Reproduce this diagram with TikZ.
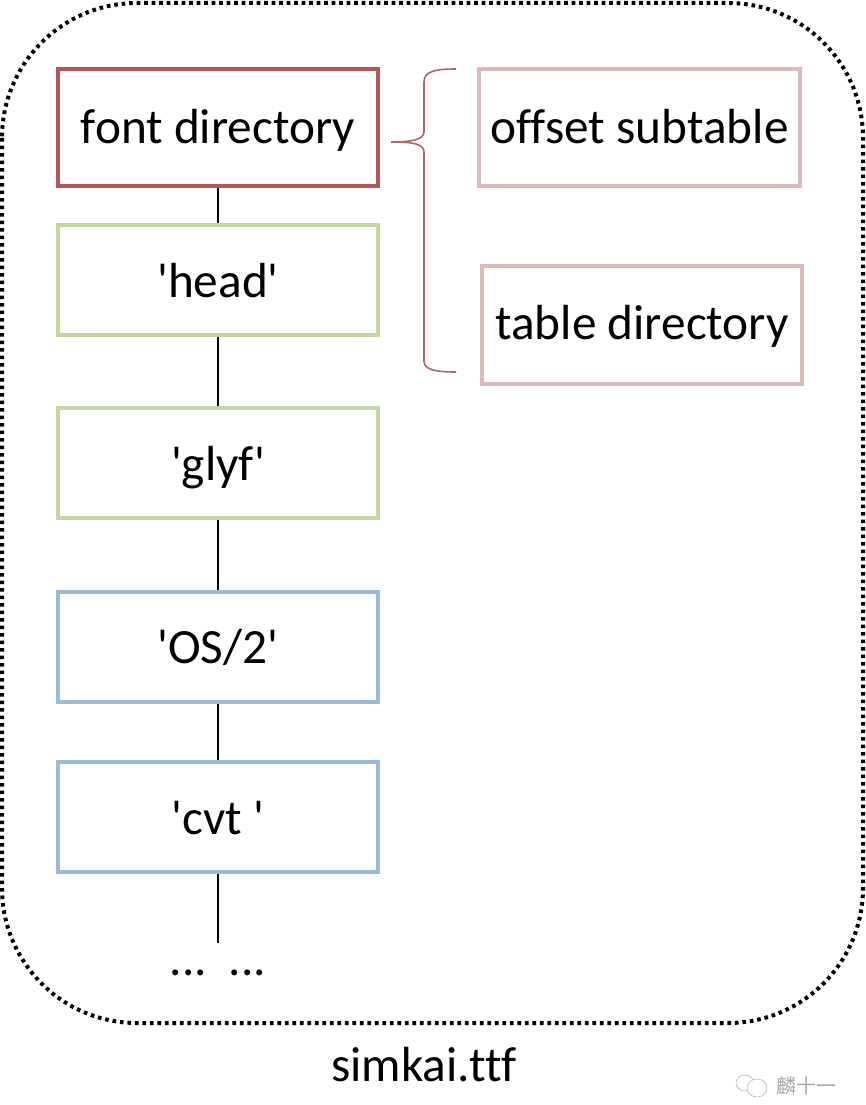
\documentclass[tikz,border=0pt]{standalone}
\usepackage{fontspec}
\setmainfont{Carlito}[Ligatures=NoCommon]
\newfontfamily\cjk{Noto Sans CJK SC}
\definecolor{redline}{HTML}{B0585C}
\definecolor{paleline}{HTML}{DDB9B8}
\definecolor{greenline}{HTML}{C3D5A0}
\definecolor{blueline}{HTML}{9DB8D8}
\definecolor{braceline}{HTML}{AE6468}
\definecolor{markgray}{HTML}{A8A8A8}
\tikzset{
  x=1pt,y=-1pt,
  box/.style={draw,line width=3.4pt,rectangle,inner sep=0pt,font=\fontsize{49.3}{52}\selectfont,text=black,text depth=0pt},
  link/.style={draw=black,line width=1.6pt},
  label/.style={font=\fontsize{49.3}{52}\selectfont,text=black,inner sep=0pt}
}
\begin{document}
\begin{tikzpicture}
\useasboundingbox (0,0) rectangle (866,1105);
\fill[white] (0,0) rectangle (866,1105);
\draw[line width=4pt,dash pattern=on 3.6pt off 3.9pt,rounded corners=135pt] (2,3) rectangle (863,1023);
\node[box,draw=redline,minimum width=320pt,minimum height=117pt,text height=32pt] (fd) at (218,127.5) {font directory};
\node[box,draw=greenline,minimum width=320pt,minimum height=110pt,text height=35pt] (head) at (218,280) {\textquotesingle head\textquotesingle};
\node[box,draw=greenline,minimum width=320pt,minimum height=110pt,text height=34pt] (glyf) at (218,463) {\textquotesingle glyf\textquotesingle};
\node[box,draw=blueline,minimum width=320pt,minimum height=110pt,text height=33pt] (os) at (218,647) {\textquotesingle OS/2\textquotesingle};
\node[box,draw=blueline,minimum width=320pt,minimum height=110pt,text height=35pt] (cvt) at (218,817) {\textquotesingle cvt \textquotesingle};
\node[box,draw=paleline,minimum width=321pt,minimum height=117pt,text height=32pt] (off) at (639.5,127.5) {offset subtable};
\node[box,draw=paleline,minimum width=320pt,minimum height=118pt,text height=28pt] (tab) at (642,325) {table directory};
\node[label,anchor=base] (dots) at (218,975) {...\hspace{22pt}...};
\node[label,anchor=base] (name) at (424,1081) {simkai.ttf};
\coordinate (end) at (218,943);
\draw[link] (fd) -- (head);
\draw[link] (head) -- (glyf);
\draw[link] (glyf) -- (os);
\draw[link] (os) -- (cvt);
\draw[link] (cvt) -- (end);
\coordinate (tip) at (391,142);
\coordinate (topend) at (456,69);
\coordinate (botend) at (456,372);
\draw[braceline,line width=1.6pt] (topend) .. controls (436,69) and (424,71) .. (424,82)
  -- (424,132) .. controls (424,140) and (410,142) .. (tip)
  .. controls (410,142) and (424,143) .. (424,152)
  -- (424,361) .. controls (424,370) and (436,372) .. (botend);
% watermark
\draw[markgray,line width=0.5pt] (745,1083) ellipse (9pt and 8pt);
\draw[markgray,line width=0.5pt,fill=white] (757,1088) ellipse (10pt and 9pt);
\node[inner sep=0pt,text=markgray,font=\cjk\fontsize{20}{22}\selectfont] (mark) at (806,1086) {麟十一};
\end{tikzpicture}
\end{document}
